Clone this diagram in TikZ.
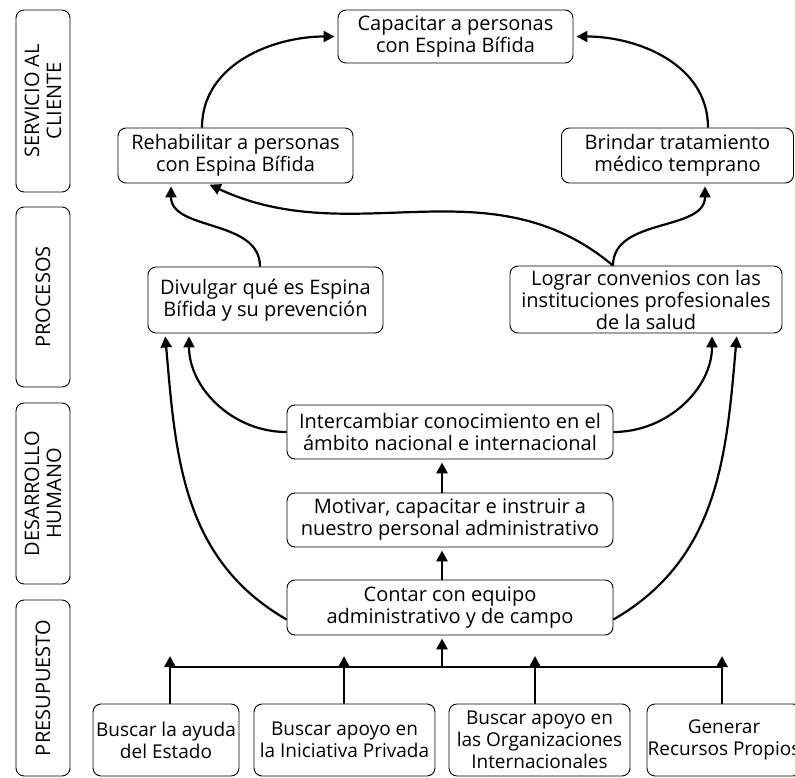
\documentclass[tikz,border=0pt]{standalone}
\usepackage{fontspec}
\setmainfont{Open Sans}
\usetikzlibrary{arrows.meta}

\tikzset{
  caja/.style={draw, rounded corners=8pt, align=center, inner sep=0pt, line width=0.9pt},
  carril/.style={caja, rotate=90, minimum height=54pt},
  fuente/.style={caja, minimum height=72pt, font=\fontsize{19}{22}\selectfont},
  flecha/.style={line width=2.2pt, -{Triangle[length=11pt,width=11pt]}, shorten >=3pt},
  barra/.style={line width=2.8pt},
}

\begin{document}
\begin{tikzpicture}[x=1pt,y=-1pt,font=\fontsize{20}{22}\selectfont]
    \useasboundingbox (0,0) rectangle (795,778);
    \clip (0,0) rectangle (795,778);

    % carriles
    \node[carril, minimum width=182pt] (servicio) at (43,101) {SERVICIO AL\\CLIENTE};
    \node[carril, minimum width=180pt] (procesos) at (43,297) {PROCESOS};
    \node[carril, minimum width=181pt] (desarrollo) at (43,493.5) {DESARROLLO\\HUMANO};
    \node[carril, minimum width=176pt] (presupuesto) at (43,688) {PRESUPUESTO};

    % objetivos
    \node[caja, minimum width=235pt, minimum height=53pt] (capacitar) at (455.5,36.5) {Capacitar a personas\\con Espina Bífida};
    \node[caja, minimum width=235pt, minimum height=55pt] (rehabilitar) at (235.5,155.5) {Rehabilitar a personas\\con Espina Bífida};
    \node[caja, minimum width=232pt, minimum height=55pt] (brindar) at (677.5,155.5) {Brindar tratamiento\\médico temprano};
    \node[caja, minimum width=235pt, minimum height=66pt] (divulgar) at (265.5,300) {Divulgar qué es Espina\\Bífida y su prevención};
    \node[caja, minimum width=272pt, minimum height=67pt] (lograr) at (646,299.5) {Lograr convenios con las\\instituciones profesionales\\de la salud};
    \node[caja, minimum width=326pt, minimum height=54pt] (intercambiar) at (450,432) {Intercambiar conocimiento en el\\ámbito nacional e internacional};
    \node[caja, minimum width=326pt, minimum height=54pt] (motivar) at (450,520) {Motivar, capacitar e instruir a\\nuestro personal administrativo};
    \node[caja, minimum width=326pt, minimum height=55pt] (contar) at (450,607.5) {Contar con equipo\\administrativo y de campo};

    \node[fuente, minimum width=146pt] (estado) at (166,740) {Buscar la ayuda\\del Estado};
    \node[fuente, minimum width=181pt] (privada) at (344.5,740) {Buscar apoyo en\\la Iniciativa Privada};
    \node[fuente, minimum width=181pt] (organizaciones) at (539.5,740) {Buscar apoyo en\\las Organizaciones\\Internacionales};
    \node[fuente, minimum width=154pt] (propios) at (724,740) {Generar\\Recursos Propios};

    \coordinate (t1) at (170,656);
    \coordinate (t2) at (344,656);
    \coordinate (t3) at (535,656);
    \coordinate (t4) at (722,656);
    \coordinate (izq) at (170,667);
    \coordinate (der) at (722,667);
    \coordinate (centro) at (442,667);

    % flechas curvas
    \draw[flecha] ([xshift=-33.5pt]rehabilitar.north) to[out=90,in=180] (capacitar.west);
    \draw[flecha] ([xshift=30.5pt]brindar.north) to[out=90,in=0] (capacitar.east);
    \draw[flecha] ([xshift=-5.5pt]divulgar.north) to[out=90,in=-90] ([xshift=-64.5pt]rehabilitar.south);
    \draw[flecha] ([xshift=-33pt]lograr.north) to[out=140,in=-25] ([xshift=-28.5pt]rehabilitar.south);
    \draw[flecha] ([xshift=-33pt]lograr.north) to[out=90,in=-90] ([xshift=27.5pt]brindar.south);
    \draw[flecha] (intercambiar.west) to[out=180,in=-90] ([xshift=-76.5pt]divulgar.south);
    \draw[flecha] (intercambiar.east) to[out=0,in=-90] ([xshift=66pt]lograr.south);
    \draw[flecha] ([yshift=-12pt]contar.west) to[out=150,in=-85] ([xshift=-100.5pt]divulgar.south);
    \draw[flecha] ([yshift=-12pt]contar.east) to[out=30,in=-95] ([xshift=91pt]lograr.south);

    % flechas rectas
    \draw[flecha,barra] ([xshift=-8pt]motivar.north) -- ([xshift=-8pt]intercambiar.south);
    \draw[flecha,barra] ([xshift=-8pt]contar.north) -- ([xshift=-8pt]motivar.south);
    \draw[flecha,barra] (centro) -- (centro |- contar.south);
    \draw[barra] (izq) -- (der);
    \draw[flecha,barra,shorten >=0pt] (t1 |- estado.north) -- (t1);
    \draw[flecha,barra,shorten >=0pt] (t2 |- privada.north) -- (t2);
    \draw[flecha,barra,shorten >=0pt] (t3 |- organizaciones.north) -- (t3);
    \draw[flecha,barra,shorten >=0pt] (t4 |- propios.north) -- (t4);
\end{tikzpicture}
\end{document}
